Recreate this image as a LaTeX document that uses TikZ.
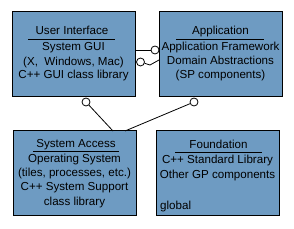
\documentclass[tikz,border=0pt]{standalone}
\usepackage{fontspec}
\setmainfont{Liberation Sans}
\begin{document}
\begin{tikzpicture}[x=1pt,y=-1pt,
  box/.style={draw=black,line width=1pt,fill=boxblue,inner sep=0pt},
  txt/.style={anchor=base,inner sep=0pt,font=\fontsize{11.6}{14}\selectfont},
  iface/.style={circle,draw=black,fill=white,line width=0.8pt,minimum size=8pt,inner sep=0pt},
  conn/.style={draw=black,line width=0.8pt},
  uline/.style={draw=black,line width=0.8pt}]
\definecolor{boxblue}{RGB}{110,155,194}
\useasboundingbox (0,0) rectangle (294,229);
% boxes
\node[box,minimum width=123pt,minimum height=85pt] (ui) at (73.5,54.5) {};
\node[box,minimum width=123pt,minimum height=85pt] (app) at (220.5,54.5) {};
\node[box,minimum width=123pt,minimum height=85pt] (sa) at (74.5,173.5) {};
\node[box,minimum width=123pt,minimum height=85pt] (fd) at (217.5,173.5) {};
% User Interface
\node[txt] (uit) at (72,35) {User Interface};
\draw[uline] (28,39.5) -- (115,39.5);
\node[txt] (ui1) at (73.5,51) {System GUI};
\node[txt] (ui2) at (73.5,65.5) {(X,\ \ Windows, Mac)};
\node[txt] (ui3) at (73.5,79) {C++ GUI class library};
% Application
\node[txt] (appt) at (220.5,35) {Application};
\draw[uline] (176,39.5) -- (264,39.5);
\node[txt] (app1) at (220.5,51) {Application Framework};
\node[txt] (app2) at (220.5,65) {Domain Abstractions};
\node[txt] (app3) at (220.5,79) {(SP components)};
% System Access
\node[txt] (sat) at (76,148) {System Access};
\draw[uline] (33,151.5) -- (119,151.5);
\node[txt] (sa1) at (74.5,163) {Operating System};
\node[txt] (sa2) at (74.5,177) {(tiles, processes, etc.)};
\node[txt] (sa3) at (74.5,191) {C++ System Support};
\node[txt] (sa4) at (74.5,205) {class library};
% Foundation
\node[txt] (fdt) at (218.5,149) {Foundation};
\draw[uline] (175,152.5) -- (262,152.5);
\node[txt] (fd1) at (217.5,164) {C++ Standard Library};
\node[txt] (fd2) at (217.5,179) {Other GP components};
\node[txt,anchor=base west] (fd3) at (160,210) {global};
% interfaces
\node[iface] (c1) at (155,50) {};
\node[iface] (c2) at (140.5,62) {};
\node[iface] (c3) at (86,102) {};
\node[iface] (c4) at (194,102) {};
\coordinate (satop1) at (113,131);
\coordinate (satop2) at (125,131);
\coordinate (appl) at (159,60);
\draw[conn] (ui.east |- c1) -- (c1);
\draw[conn] (c2) -- (150,65) -- (appl);
\draw[conn] (c3) -- (satop1);
\draw[conn] (c4) -- (satop2);
\end{tikzpicture}
\end{document}
